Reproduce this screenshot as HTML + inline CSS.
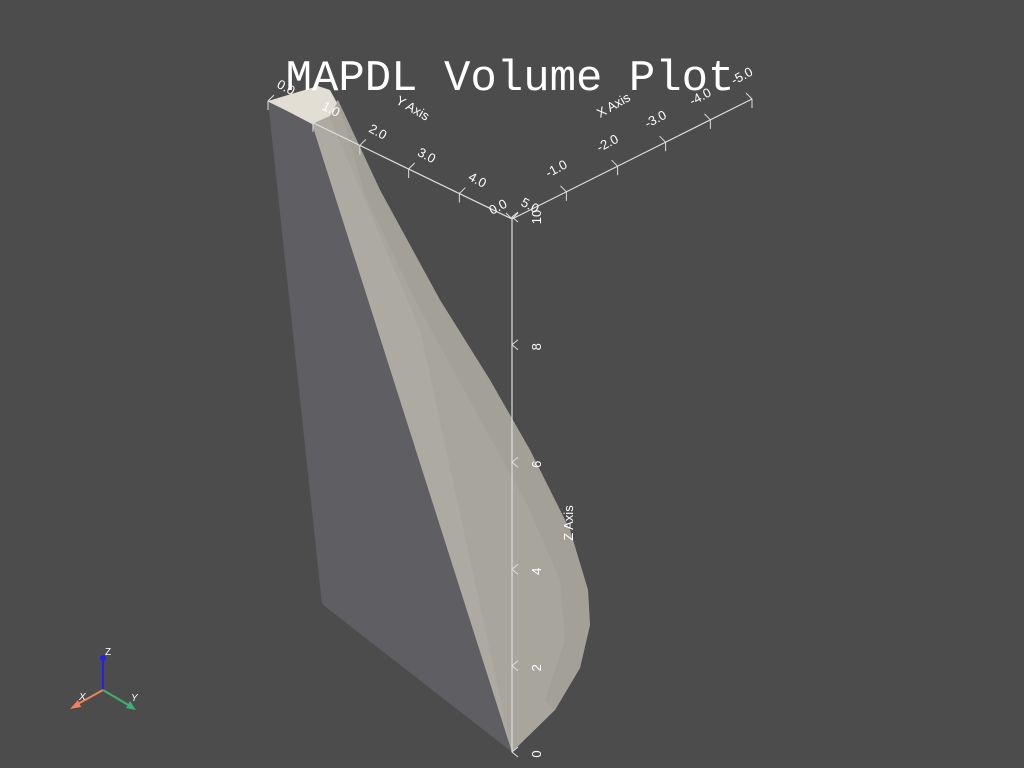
<!DOCTYPE html>
<html><head><meta charset="utf-8"><style>
html,body{margin:0;padding:0;background:#4c4c4c;}
svg{display:block;}
text{font-family:"Liberation Sans",sans-serif;fill:#fff;}
</style></head><body>
<svg id="chart" width="1024" height="768" viewBox="0 0 1024 768">
<rect x="0" y="0" width="1024" height="768" fill="#4c4c4c"/>
<g>
<polygon points="268,101 312,124 512,752 322,604" fill="#5f5e62"/>
<polygon points="312,124 338,100 380,190 440,300 490,380 530,450 570,530 588,590 590,625 580,668 555,710 512,752" fill="#a8a59d"/>
<polygon points="338,100 380,190 440,300 490,380 530,450 570,530 588,590 590,625 580,668 555,710 545,700 565,640 560,580 525,500 475,410 415,300 365,195" fill="#a19e96" opacity="0.7"/>
<polygon points="312,124 330,118 420,330 512,752" fill="#b2afa7" opacity="0.5"/>
<polygon points="268,101 318,86 330,90 337,103 330,116 312,124" fill="#e3ded4"/>
</g>
<g id="axes"></g>
<text x="510" y="90" text-anchor="middle" style="font-family:'Liberation Mono',monospace;font-size:44px;fill:#fff">MAPDL Volume Plot</text>
<g>
<line x1="103" y1="690" x2="103" y2="660" stroke="#2222ee" stroke-width="2"/>
<circle cx="103" cy="658" r="3" fill="#2222ee"/>
<line x1="103" y1="690" x2="76" y2="705" stroke="#f08060" stroke-width="2"/>
<polygon points="70,709 78,700 81,707" fill="#f08060"/>
<line x1="103" y1="690" x2="130" y2="706" stroke="#40b070" stroke-width="2"/>
<polygon points="136,710 126,708 130,701" fill="#40b070"/>
<text x="105" y="655" font-size="10">Z</text>
<text x="79" y="700" font-size="10" font-style="italic">X</text>
<text x="131" y="701" font-size="10" font-style="italic">Y</text>
</g>
</svg>
<script>
const yTicks=[0,1,2,3,4,5];
const yTickLabels=["0.0","1.0","2.0","3.0","4.0","5.0"];
const xTicks=[0,-1,-2,-3,-4,-5];
const xTickLabels=["0.0","-1.0","-2.0","-3.0","-4.0","-5.0"];
const zTicks=[0,2,4,6,8,10];
const zTickLabels=["0","2","4","6","8","10"];

const NS="http://www.w3.org/2000/svg";
const g=document.getElementById('axes');
function mk(tag,attrs){const e=document.createElementNS(NS,tag);for(const k in attrs)e.setAttribute(k,attrs[k]);g.appendChild(e);return e;}
function yAxisPt(v){const x=268+44*v+0.96*v*v;const t=(x-268)/244;return [x,101+t*118];}
function xAxisPt(v){const a=-v;const x=512+56*a-1.6*a*a;const t=(x-512)/240;return [x,219-t*120];}
function zAxisPt(v){return [512,752-40.5*v-1.3*v*v];}

let p0=yAxisPt(0),p1=yAxisPt(5);
let l=mk('line',{x1:p0[0],y1:p0[1],x2:p1[0],y2:p1[1],stroke:'#ddd','stroke-width':1.2});


p0=xAxisPt(0);p1=xAxisPt(-5);
l=mk('line',{x1:p0[0],y1:p0[1],x2:p1[0],y2:p1[1],stroke:'#ddd','stroke-width':1.2});


p0=zAxisPt(0);p1=zAxisPt(10);
l=mk('line',{x1:p0[0],y1:p0[1],x2:p1[0],y2:p1[1],stroke:'#ddd','stroke-width':1.2});



yTicks.forEach((v,i)=>{const p=yAxisPt(v);
 const t=mk('polyline',{points:`${p[0]+6},${p[1]-6} ${p[0]},${p[1]} ${p[0]},${p[1]+9}`,stroke:'#ddd','stroke-width':1,fill:'none'});
 
 
 const tx=mk('text',{x:p[0]+8,y:p[1]-14,'font-size':13,transform:`rotate(28 ${p[0]+8} ${p[1]-14})`});
 tx.textContent=yTickLabels[i];
 
 
});
xTicks.forEach((v,i)=>{const p=xAxisPt(v);
 const t=mk('polyline',{points:`${p[0]-6},${p[1]-6} ${p[0]},${p[1]} ${p[0]},${p[1]+9}`,stroke:'#ddd','stroke-width':1,fill:'none'});
 
 
 const lx=i===0?p[0]-20:p[0]-18, ly=i===0?p[1]-4:p[1]-14;
 const tx=mk('text',{x:lx,y:ly,'font-size':13,transform:`rotate(-28 ${lx} ${ly})`});
 tx.textContent=xTickLabels[i];
 
 
});
zTicks.forEach((v,i)=>{const p=zAxisPt(v);
 const t=mk('polyline',{points:`${p[0]+6},${p[1]-5} ${p[0]} ${p[1]} ${p[0]+6},${p[1]+5}`,stroke:'#ddd','stroke-width':1,fill:'none'});
 
 
 const lx=p[0]+29, ly=p[1]+(v===10?0:2);
 const tx=mk('text',{x:lx,y:ly,'font-size':13,'text-anchor':'middle',transform:`rotate(-90 ${lx} ${ly})`});
 tx.textContent=zTickLabels[i];
 
 
});
let at=mk('text',{x:395,y:103,'font-size':13,transform:'rotate(30 395 103)'});
at.textContent='Y Axis';


at=mk('text',{x:600,y:118,'font-size':13,transform:'rotate(-30 600 118)'});
at.textContent='X Axis';


at=mk('text',{x:573,y:523,'font-size':13,'text-anchor':'middle',transform:'rotate(-90 573 523)'});
at.textContent='Z Axis';


</script>
</body></html>
